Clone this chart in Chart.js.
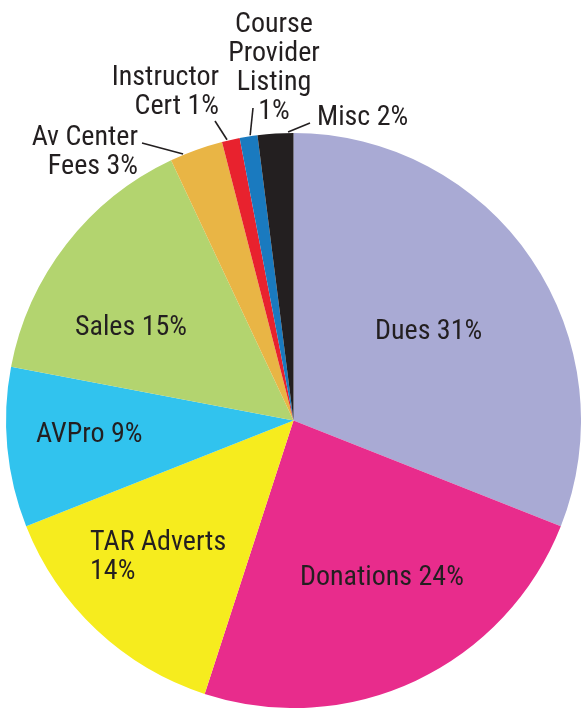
<!DOCTYPE html>
<html>
<head>
<meta charset="utf-8">
<script src="https://cdn.jsdelivr.net/npm/chart.js@4/dist/chart.umd.min.js"></script>
<style>
  html, body { margin: 0; padding: 0; background: #ffffff; }
  #wrap { width: 581px; height: 708px; position: relative; }
</style>
</head>
<body>
<div id="wrap"><canvas id="c" width="581" height="708"></canvas></div>
<script>
// ---- data ----
const categories = ["Dues", "Donations", "TAR Adverts", "AVPro", "Sales", "Av Center Fees", "Instructor Cert", "Course Provider Listing", "Misc"];
const shares = [31, 24, 14, 9, 15, 3, 1, 1, 2];
const sliceColors = ["#a9aad4", "#e82c8c", "#f6ec1e", "#31c3ee", "#b3d46f", "#e9b545", "#e8222e", "#1a7abf", "#231f20"];

// ---- label layout (text lines built from categories + shares) ----
const labelLayout = [
  { lines: i => [categories[i] + " " + shares[i] + "%"], x: 375, y: 339, align: "left" },
  { lines: i => [categories[i] + " " + shares[i] + "%"], x: 300, y: 585, align: "left" },
  { lines: i => ["TAR Adverts", shares[i] + "%"], x: 90, y: 550, align: "left" },
  { lines: i => [categories[i] + " " + shares[i] + "%"], x: 36, y: 442, align: "left" },
  { lines: i => [categories[i] + " " + shares[i] + "%"], x: 75, y: 335, align: "left" },
  { lines: i => ["Av Center", "Fees " + shares[i] + "%"], x: 138, y: 145, align: "right", leader: { t: 0.25, to: [142, 143] } },
  { lines: i => ["Instructor", "Cert " + shares[i] + "%"], x: 219, y: 85, align: "right", leader: { t: 0.3, to: [215, 121] } },
  { lines: i => ["Course", "Provider", "Listing", shares[i] + "%"], x: 274, y: 32, align: "center", leader: { t: 0.6, to: [253, 108] } },
  { lines: i => [categories[i] + " " + shares[i] + "%"], x: 317, y: 125, align: "left", leader: { t: 0.85, to: [310, 123] } }
];
const FONT = "28px 'Liberation Sans Narrow', 'Arial Narrow', 'Roboto Condensed', sans-serif";
const LINE_H = 29;

const labelPlugin = {
  id: "sliceLabels",
  afterDraw(chart) {
    const ctx = chart.ctx;
    const meta = chart.getDatasetMeta(0);
    ctx.save();
    ctx.fillStyle = "#231f20";
    ctx.strokeStyle = "#231f20";
    ctx.lineWidth = 1.6;
    ctx.font = FONT;
    ctx.textBaseline = "alphabetic";
    labelLayout.forEach((lab, i) => {
      const arc = meta.data[i];
      const lines = lab.lines(i);
      ctx.textAlign = lab.align;
      lines.forEach((ln, k) => ctx.fillText(ln, lab.x, lab.y + k * LINE_H));
      if (lab.leader) {
        const a = arc.startAngle + (arc.endAngle - arc.startAngle) * lab.leader.t;
        const r = arc.outerRadius + 1;
        const px = arc.x + Math.cos(a) * r;
        const py = arc.y + Math.sin(a) * r;
        ctx.beginPath();
        ctx.moveTo(lab.leader.to[0], lab.leader.to[1]);
        ctx.lineTo(px, py);
        ctx.stroke();
      }
    });
    ctx.restore();
  }
};

new Chart(document.getElementById("c"), {
  type: "pie",
  data: {
    labels: categories,
    datasets: [{
      data: shares,
      backgroundColor: sliceColors,
      borderWidth: 0
    }]
  },
  options: {
    responsive: false,
    animation: false,
    layout: { padding: { left: 6, right: 0, top: 133, bottom: 0 } },
    plugins: {
      legend: { display: false },
      tooltip: { enabled: false },
      title: { display: false }
    }
  },
  plugins: [labelPlugin]
});
</script>
</body>
</html>
